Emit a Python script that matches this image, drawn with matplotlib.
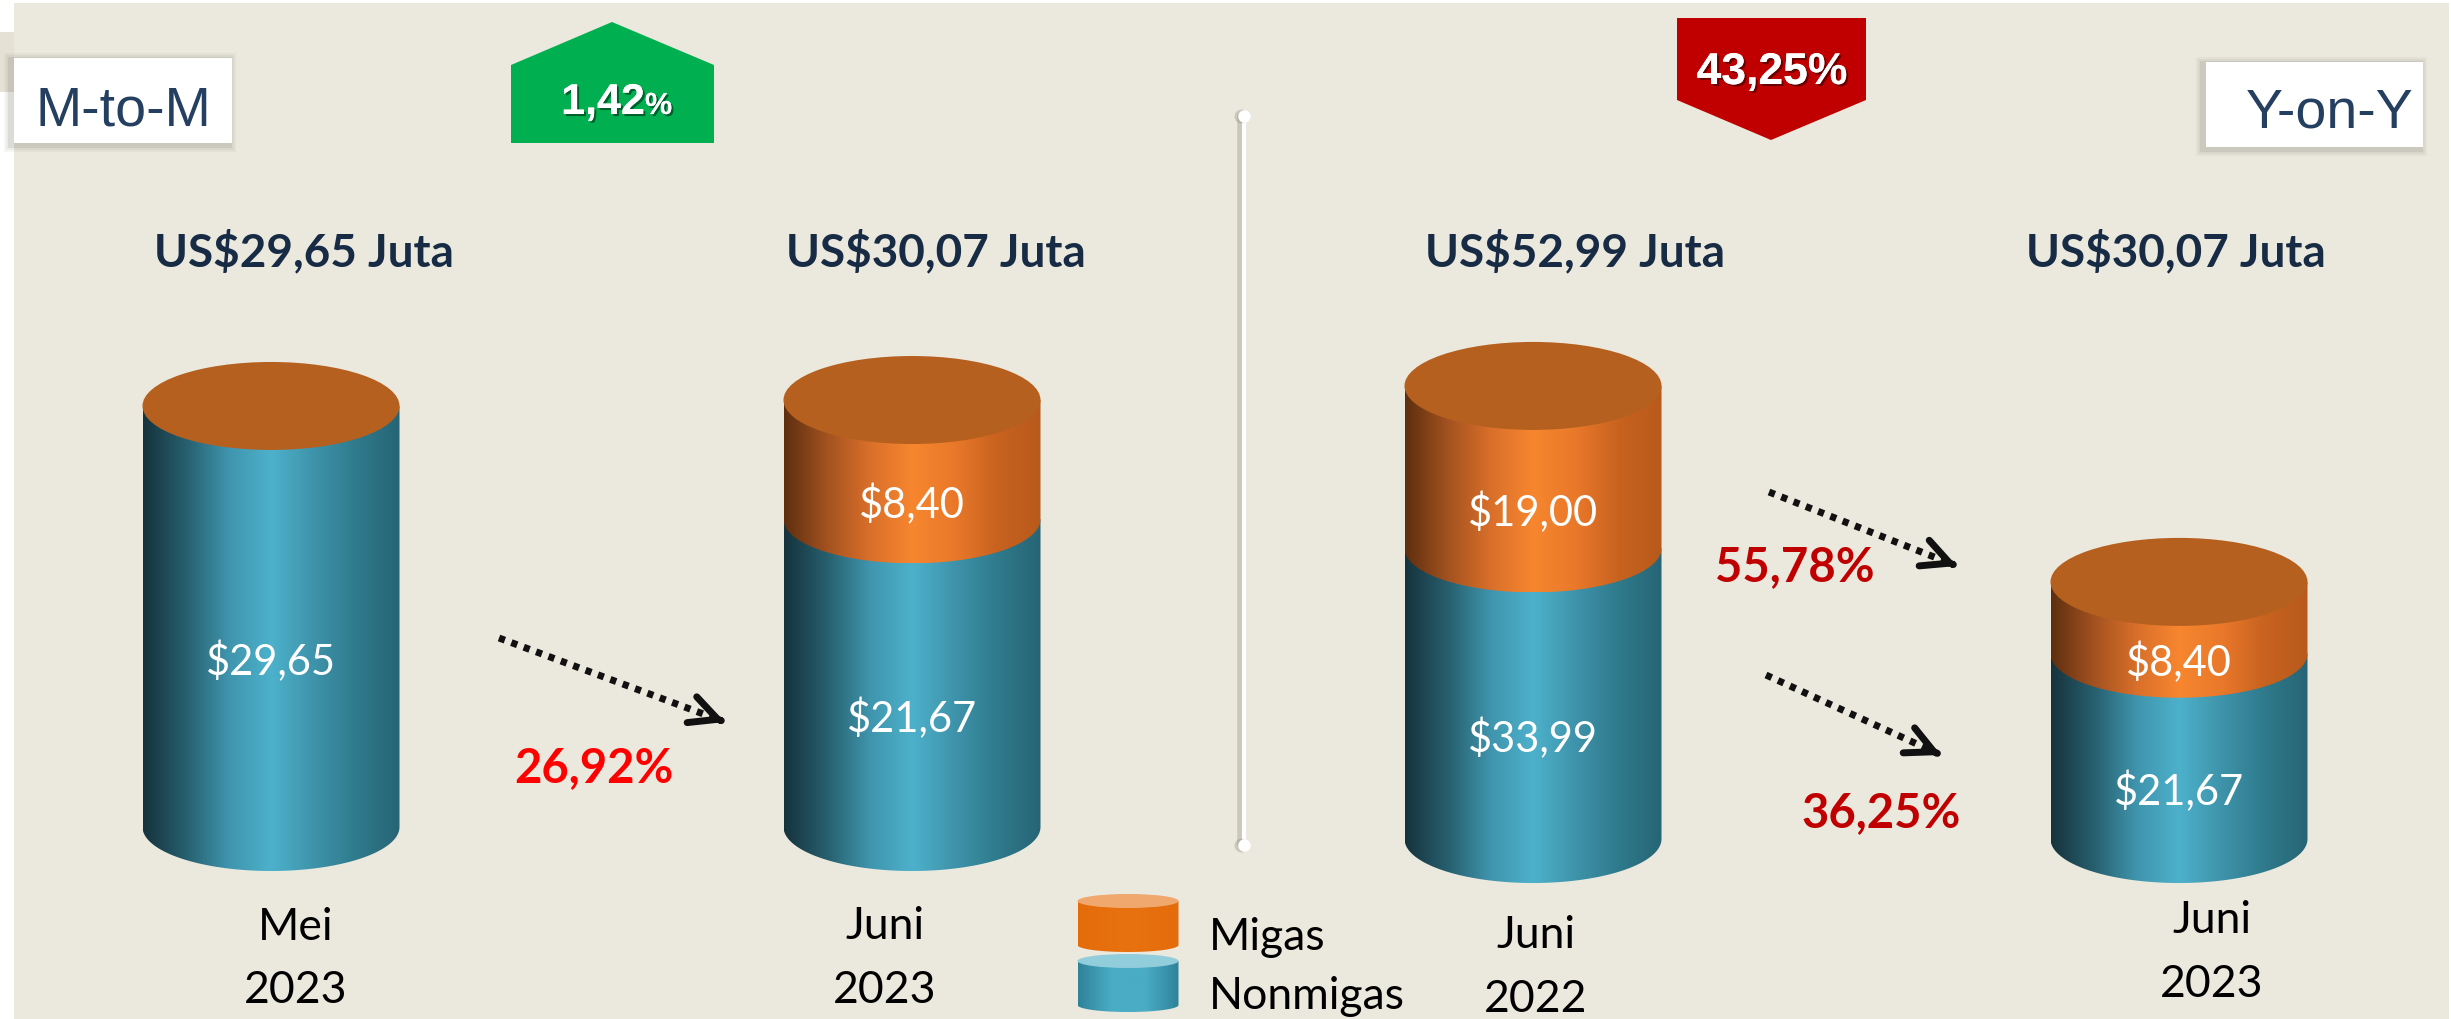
import numpy as np
import matplotlib
matplotlib.use('Agg')
import matplotlib.pyplot as plt
import matplotlib.patheffects as pe
from matplotlib.patches import Ellipse, PathPatch, Rectangle, Polygon
from matplotlib.path import Path
from matplotlib.colors import LinearSegmentedColormap

W, H = 2451, 1020

# data
months = ['Mei', 'Juni', 'Juni', 'Juni']
years = ['2023', '2023', '2022', '2023']
totals = [29.65, 30.07, 52.99, 30.07]
nonmigas = [29.65, 21.67, 33.99, 21.67]
migas = [0.00, 8.40, 19.00, 8.40]
mtm_change = 1.42
yoy_change = 43.25
mtm_nonmigas_change = 26.92
yoy_migas_change = 55.78
yoy_nonmigas_change = 36.25
legend_labels = ['Migas', 'Nonmigas']

# layout (pixels)
cyl_x = [271, 912, 1533, 2179]
cyl_w = 257
cyl_b = 44
panel_of = [0, 0, 1, 1]
panel_base = [828, 840]
panel_scale = [14.2, 8.55]
total_x = [304, 936, 1575, 2176]
label_x = [296, 885, 1536, 2212]
label_y1 = [940, 939, 948, 933]
label_y2 = [1003, 1003, 1012, 997]

BG = '#EBE8DD'
NAVY = '#172B45'
BLUE_GRAD = ['#16333D', '#275F6E', '#3F95AD', '#4DB1CB', '#3E93AA', '#2F7A8C', '#266575']
ORANGE_GRAD = ['#5E2F0F', '#A35220', '#D96F2A', '#F7862F', '#E9782A', '#C8621F', '#B85A1C']
TOP_COLOR = '#B5601F'
NARROW = ['Liberation Sans Narrow', 'Liberation Sans']


def fmt(v):
    return f"{v:.2f}".replace('.', ',')


def px_axes(fig, z):
    a = fig.add_axes([0, 0, 1, 1])
    a.set_xlim(0, W)
    a.set_ylim(H, 0)
    a.set_autoscale_on(False)
    a.axis('off')
    a.set_zorder(z)
    return a


def cyl_side(ax, xc, w, y_bot, y_top, b, colors, down, z):
    # side of a cylinder: flat top edge, elliptical front arc at the bottom
    t = np.linspace(0, np.pi, 80)
    xl, xr = xc - w / 2, xc + w / 2
    arc = list(zip(xc + (w / 2) * np.cos(t), y_bot + down * b * np.sin(t)))
    verts = [(xl, y_top), (xr, y_top)] + arc + [(xl, y_top)]
    codes = [Path.MOVETO] + [Path.LINETO] * (len(verts) - 2) + [Path.CLOSEPOLY]
    patch = PathPatch(Path(verts, codes), facecolor='none', edgecolor='none')
    ax.add_patch(patch)
    cmap = LinearSegmentedColormap.from_list('side', colors)
    lo, hi = sorted([y_bot + down * b, y_top])
    im = ax.imshow(np.linspace(0, 1, 256)[None, :], cmap=cmap, extent=(xl, xr, lo, hi),
                   aspect='auto', interpolation='bicubic', zorder=z)
    im.set_clip_path(patch)


fig = plt.figure(figsize=(W / 100, H / 100), dpi=100)
fig.patch.set_facecolor('white')

# background layer
ax_bg = px_axes(fig, 0)
ax_bg.add_patch(Rectangle((0, 33), 14, 60, facecolor='#E5E2D5', edgecolor='none'))
ax_bg.add_patch(Rectangle((14, 4), 2435, 1016, facecolor=BG, edgecolor='none'))

for (x0, y0, x1, y1) in [(14, 59, 232, 144), (2206, 63, 2423, 148)]:
    for k, a in [(7, 0.06), (5, 0.08), (3, 0.12)]:
        ax_bg.add_patch(Rectangle((x0 - 3 - k, y0 + 2 - k), x1 - x0 + 2 * k, y1 - y0 + 2 * k,
                                  facecolor='#6E6A5E', alpha=a, edgecolor='none'))
    ax_bg.add_patch(Rectangle((x0, y0), x1 - x0, y1 - y0, facecolor='white', edgecolor='none'))

ax_bg.add_patch(Polygon([(511, 144), (511, 66), (612, 23), (714, 66), (714, 144)],
                        closed=True, facecolor='#00B050', edgecolor='none'))
ax_bg.add_patch(Polygon([(1677, 19), (1866, 19), (1866, 101), (1771, 141), (1677, 101)],
                        closed=True, facecolor='#C00000', edgecolor='none'))

# divider
ax_bg.plot([1240, 1240], [117, 846], color='#8F8B7E', lw=4, alpha=0.35, solid_capstyle='round')
ax_bg.plot([1244, 1244], [117, 846], color='white', lw=3, solid_capstyle='round')
ax_bg.plot([1241, 1241], [117, 846], 'o', ms=10, color='#8F8B7E', alpha=0.35, mec='none')
ax_bg.plot([1244, 1244], [117, 846], 'o', ms=9, color='white', mec='none')

# cylinders: one axes per panel, each with its own value scale
panel_axes = []
for base, scale in zip(panel_base, panel_scale):
    a = fig.add_axes([0, 0, 1, 1])
    a.set_xlim(0, W)
    a.set_ylim((base - H) / scale, base / scale)
    a.set_autoscale_on(False)
    a.axis('off')
    a.set_zorder(1)
    panel_axes.append(a)

for i in range(len(totals)):
    ax = panel_axes[panel_of[i]]
    scale = panel_scale[panel_of[i]]
    b = cyl_b / scale
    xc = cyl_x[i]
    bottom = 0.0
    for val, grad, z in [(nonmigas[i], BLUE_GRAD, 2), (migas[i], ORANGE_GRAD, 3)]:
        if val <= 0:
            continue
        top = bottom + val
        cyl_side(ax, xc, cyl_w, bottom, top, b, grad, -1, z)
        ax.text(xc, (bottom + top) / 2 - b, '$' + fmt(val), ha='center', va='center',
                fontsize=30, color='white', family='Lato', zorder=10, parse_math=False)
        bottom = top
    ax.add_patch(Ellipse((xc, bottom), cyl_w, 2 * b, facecolor=TOP_COLOR, edgecolor='none', zorder=5))

# overlay: text, arrows, legend
ax_o = px_axes(fig, 2)

ax_o.text(123, 125, 'M-to-M', ha='center', va='baseline', fontsize=40, color='#243F60', family=NARROW)
ax_o.text(2330, 128, 'Y-on-Y', ha='center', va='baseline', fontsize=40, color='#243F60', family=NARROW)

shadow = [pe.withSimplePatchShadow(offset=(1.5, -1.5), shadow_rgbFace='black', alpha=0.45), pe.Normal()]
ax_o.text(645, 115, fmt(mtm_change), ha='right', va='baseline', fontsize=31, color='white',
          weight='bold', family=NARROW, path_effects=shadow)
ax_o.text(645, 115, '%', ha='left', va='baseline', fontsize=22, color='white',
          weight='bold', family=NARROW, path_effects=shadow)
ax_o.text(1772, 85, fmt(yoy_change) + '%', ha='center', va='baseline', fontsize=32, color='white',
          weight='bold', family=NARROW, path_effects=shadow)

for i in range(len(totals)):
    ax_o.text(total_x[i], 266, 'US$' + fmt(totals[i]) + ' Juta', ha='center', va='baseline',
              fontsize=33, weight='bold', color=NAVY, family='Lato', parse_math=False)
    ax_o.text(label_x[i], label_y1[i], months[i], ha='center', va='baseline', fontsize=32,
              color='black', family='Lato')
    ax_o.text(label_x[i], label_y2[i], years[i], ha='center', va='baseline', fontsize=32,
              color='black', family='Lato')

# change percentages
ax_o.text(594, 782, fmt(mtm_nonmigas_change) + '%', ha='center', va='baseline', fontsize=34,
          weight='bold', color='#FF0000', family='Lato')
ax_o.text(1795, 581, fmt(yoy_migas_change) + '%', ha='center', va='baseline', fontsize=34,
          weight='bold', color='#C00000', family='Lato')
ax_o.text(1881, 827, fmt(yoy_nonmigas_change) + '%', ha='center', va='baseline', fontsize=34,
          weight='bold', color='#C00000', family='Lato')

# dotted arrows
for (x0, y0), (x1, y1) in [((499, 639), (725, 723)), ((1769, 493), (1957, 567)), ((1766, 676), (1941, 756))]:
    d = np.hypot(x1 - x0, y1 - y0)
    ux, uy = (x1 - x0) / d, (y1 - y0) / d
    ax_o.plot([x0, x1 - 14 * ux], [y0, y1 - 14 * uy], color='#111111', lw=5,
              ls=(0, (0.9, 1.0)), dash_capstyle='butt')
    ax_o.annotate('', xy=(x1, y1), xytext=(x1 - 4 * ux, y1 - 4 * uy),
                  arrowprops=dict(arrowstyle='->,head_length=0.9,head_width=0.45', lw=5,
                                  color='#111111', shrinkA=0, shrinkB=0, mutation_scale=22))

# legend
leg_cyl = [(902, 946, ['#E46C0A', '#E97210', '#E46C0A'], '#F0A86E'),
           (962, 1006, ['#2E8399', '#4AACC5', '#4AACC5', '#2E8399'], '#92CDDC')]
for (y_top, y_bot, grad, top_col), name, ty in zip(leg_cyl, legend_labels, [950, 1009]):
    cyl_side(ax_o, 1128, 101, y_bot, y_top, 7, grad, 1, 3)
    ax_o.add_patch(Ellipse((1128, y_top), 101, 14, facecolor=top_col, edgecolor='none', zorder=4))
    ax_o.text(1209, ty, name, ha='left', va='baseline', fontsize=32, color='black', family='Lato')

fig.savefig('out.png', dpi=100, facecolor=fig.get_facecolor())
